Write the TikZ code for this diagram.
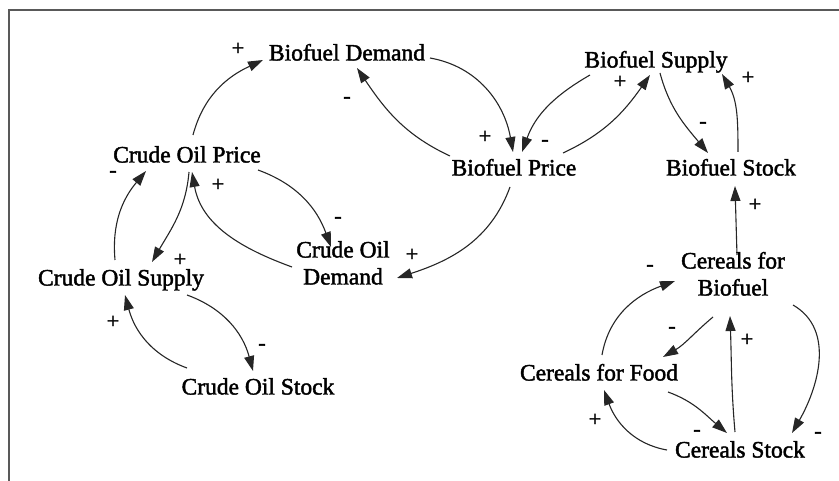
\documentclass[tikz,border=0pt]{standalone}
\usepackage{fontspec}
\setmainfont{Liberation Serif}
\newfontfamily\varfont[FakeBold=1.8]{Liberation Serif}
\usetikzlibrary{arrows.meta}
\begin{document}
\begin{tikzpicture}[x=1pt,y=1pt,
  var/.style={inner sep=0pt,text height=16pt,text depth=5pt,align=center,font=\varfont\fontsize{23.5}{27}\selectfont},
  sgn/.style={inner sep=0pt,font=\varfont\fontsize{22}{24}\selectfont},
  lnk/.style={draw=black!85,line width=1.1pt,-{Triangle[length=15pt,width=10pt]}}]
\useasboundingbox (0,0) rectangle (839,-481);
\draw[black!65,line width=2pt] (9,-481) -- (9,-10) -- (839,-10);
% variables
\node[var] (bd) at (347,-55) {Biofuel Demand};
\node[var] (bs) at (656,-62) {Biofuel Supply};
\node[var] (bp) at (514,-170) {Biofuel Price};
\node[var] (bst) at (731,-170) {Biofuel Stock};
\node[var] (cop) at (187,-157) {Crude Oil Price};
\node[var] (cod) at (343,-279) {Crude Oil\\Demand};
\node[var] (cosu) at (121,-280) {Crude Oil Supply};
\node[var] (cost) at (258,-389) {Crude Oil Stock};
\node[var] (cfb) at (733,-290) {Cereals for\\Biofuel};
\node[var] (cff) at (599,-375) {Cereals for Food};
\node[var] (cs) at (740,-452) {Cereals Stock};
% links
\draw[lnk] ([shift={(6,22)}]cop.center) to[out=75,in=205] ([shift={(-84,-5)}]bd.center);
\draw[lnk] ([shift={(-64,14)}]bp.center) to[out=155,in=304] ([shift={(10,-13)}]bd.center);
\draw[lnk] ([shift={(83,-3)}]bd.center) to[out=-10,in=100] ([shift={(-1,18)}]bp.center);
\draw[lnk] ([shift={(-66,-13)}]bs.center) to[out=210,in=70] ([shift={(8,18)}]bp.center);
\draw[lnk] ([shift={(49,17)}]bp.center) to[out=25,in=235] ([shift={(-6,-13)}]bs.center);
\draw[lnk] ([shift={(4,-11)}]bs.center) to[out=-75,in=130] ([shift={(-23,17)}]bst.center);
\draw[lnk] ([shift={(7,18)}]bst.center) to[out=90,in=300] ([shift={(66,-12)}]bs.center);
\draw[lnk] ([shift={(4,35)}]cfb.center) -- ([shift={(4,-16)}]bst.center);
\draw[lnk] ([shift={(-4,-17)}]bp.center) to[out=-110,in=18] ([shift={(54,1)}]cod.center);
\draw[lnk] ([shift={(71,-13)}]cop.center) to[out=-20,in=110] ([shift={(-12,32)}]cod.center);
\draw[lnk] ([shift={(-51,12)}]cod.center) to[out=160,in=280] ([shift={(5,-15)}]cop.center);
\draw[lnk] ([shift={(2,-15)}]cop.center) to[out=-95,in=60] ([shift={(31,18)}]cosu.center);
\draw[lnk] ([shift={(-6,20)}]cosu.center) to[out=95,in=230] ([shift={(-41,-14)}]cop.center);
\draw[lnk] ([shift={(-71,21)}]cost.center) to[out=160,in=285] ([shift={(4,-15)}]cosu.center);
\draw[lnk] ([shift={(66,-15)}]cosu.center) to[out=-20,in=105] ([shift={(-5,18)}]cost.center);
\draw[lnk] ([shift={(3,20)}]cff.center) to[out=80,in=200] ([shift={(-58,9)}]cfb.center);
\draw[lnk] ([shift={(-20,-27)}]cfb.center) to[out=220,in=30] ([shift={(64,18)}]cff.center);
\draw[lnk] ([shift={(-5,20)}]cs.center) to[out=95,in=-88] ([shift={(-3,-26)}]cfb.center);
\draw[lnk] ([shift={(60,-15)}]cfb.center) to[out=-30,in=60] ([shift={(52,19)}]cs.center);
\draw[lnk] ([shift={(69,-17)}]cff.center) to[out=-20,in=140] ([shift={(-13,19)}]cs.center);
\draw[lnk] ([shift={(-73,2)}]cs.center) to[out=170,in=290] ([shift={(5,-15)}]cff.center);
% polarities
\node[sgn] (p1) at (238,-49) {+};
\node[sgn] (p2) at (347,-100) {-};
\node[sgn] (p3) at (485,-137) {+};
\node[sgn] (p4) at (545,-143) {-};
\node[sgn] (p5) at (620,-82) {+};
\node[sgn] (p6) at (703,-125) {-};
\node[sgn] (p7) at (748,-78) {+};
\node[sgn] (p8) at (755,-205) {+};
\node[sgn] (p9) at (412,-255) {+};
\node[sgn] (p10) at (338,-220) {-};
\node[sgn] (p11) at (218,-185) {+};
\node[sgn] (p12) at (180,-260) {+};
\node[sgn] (p13) at (113,-174) {-};
\node[sgn] (p14) at (113,-322) {+};
\node[sgn] (p15) at (262,-347) {-};
\node[sgn] (p16) at (650,-268) {-};
\node[sgn] (p17) at (672,-330) {-};
\node[sgn] (p18) at (747,-340) {+};
\node[sgn] (p19) at (818,-435) {-};
\node[sgn] (p20) at (697,-433) {-};
\node[sgn] (p21) at (595,-420) {+};
\end{tikzpicture}
\end{document}
